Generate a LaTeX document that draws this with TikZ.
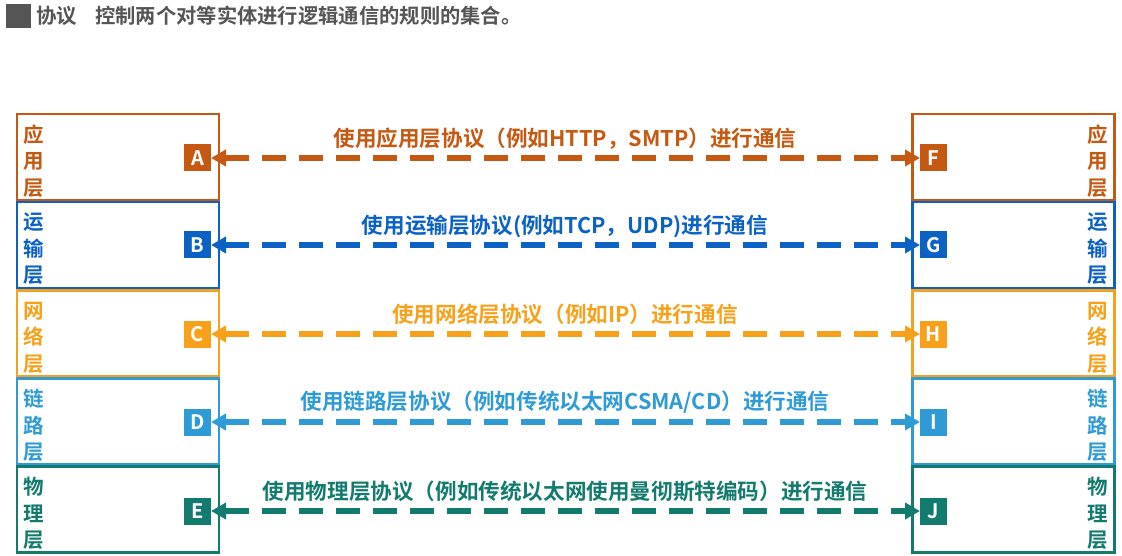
\documentclass[tikz,border=0pt]{standalone}
\usepackage{fontspec}
\setmainfont{Noto Sans CJK SC}[BoldFont={Noto Sans CJK SC Bold}]
\usetikzlibrary{arrows.meta}
\definecolor{capp}{HTML}{C65911}
\definecolor{ctra}{HTML}{0B62C4}
\definecolor{cnet}{HTML}{F7A11A}
\definecolor{clnk}{HTML}{2F9BD6}
\definecolor{cphy}{HTML}{127B6D}
\definecolor{ctitle}{HTML}{555555}
\tikzset{
  layerbox/.style={draw=#1, line width=2.5pt, fill=white, minimum width=202pt, minimum height=86pt, inner sep=0pt, outer sep=0pt, rectangle},
  layertext/.style={text=#1, font=\bfseries\fontsize{20.5}{26.5}\selectfont, align=center, inner sep=0pt},
  letterbox/.style={fill=#1, text=white, font=\bfseries\fontsize{20}{20}\selectfont, minimum width=27pt, minimum height=27pt, inner sep=0pt, outer sep=0pt},
  proto/.style={draw=#1, line width=6.5pt, dash pattern=on 24pt off 13pt, {Triangle[length=15pt,width=16pt]}-{Triangle[length=15pt,width=16pt]}},
  protolabel/.style={text=#1, font=\bfseries\fontsize{21.6}{25}\selectfont, inner sep=0pt},
}
\begin{document}
\begin{tikzpicture}[x=1pt,y=-1pt]
\useasboundingbox (0,0) rectangle (1122,556);
% title
\node[fill=ctitle, minimum width=25pt, minimum height=24pt, inner sep=0pt] (tsq) at (18.5,16) {};
\node[anchor=west, text=ctitle, font=\bfseries\fontsize{20.5}{24}\selectfont, inner sep=0pt] (tproto) at (36,16) {协议};
\node[anchor=west, text=ctitle, font=\bfseries\fontsize{20.3}{24}\selectfont, inner sep=0pt] (tdef) at (95,16) {控制两个对等实体进行逻辑通信的规则的集合。};
% left boxes
\node[layerbox=capp] (L1) at (118,157) {};
\node[layerbox=ctra] (L2) at (118,245) {};
\node[layerbox=cnet] (L3) at (118,333.5) {};
\node[layerbox=clnk] (L4) at (118,421.5) {};
\node[layerbox=cphy] (L5) at (118,509.5) {};
% right boxes
\node[layerbox=capp] (R1) at (1013.5,157) {};
\node[layerbox=ctra] (R2) at (1013.5,245) {};
\node[layerbox=cnet] (R3) at (1013.5,333.5) {};
\node[layerbox=clnk] (R4) at (1013.5,421.5) {};
\node[layerbox=cphy] (R5) at (1013.5,509.5) {};
% layer names
\node[layertext=capp] (L1t) at (33.5,161) {应\\用\\层};
\node[layertext=ctra] (L2t) at (33.5,249) {运\\输\\层};
\node[layertext=cnet] (L3t) at (33.5,337.5) {网\\络\\层};
\node[layertext=clnk] (L4t) at (33.5,425.5) {链\\路\\层};
\node[layertext=cphy] (L5t) at (33.5,513.5) {物\\理\\层};
\node[layertext=capp] (R1t) at (1098,161) {应\\用\\层};
\node[layertext=ctra] (R2t) at (1098,249) {运\\输\\层};
\node[layertext=cnet] (R3t) at (1098,337.5) {网\\络\\层};
\node[layertext=clnk] (R4t) at (1098,425.5) {链\\路\\层};
\node[layertext=cphy] (R5t) at (1098,513.5) {物\\理\\层};
% letter squares
\node[letterbox=capp] (A) at (197.5,158) {A};
\node[letterbox=ctra] (B) at (197.5,245) {B};
\node[letterbox=cnet] (C) at (197.5,334) {C};
\node[letterbox=clnk] (D) at (197.5,422) {D};
\node[letterbox=cphy] (E) at (197.5,511) {E};
\node[letterbox=capp] (F) at (933.5,158) {F};
\node[letterbox=ctra] (G) at (933.5,245) {G};
\node[letterbox=cnet] (H) at (933.5,334) {H};
\node[letterbox=clnk] (I) at (933.5,422) {I};
\node[letterbox=cphy] (J) at (933.5,511) {J};
% connectors
\draw[proto=capp] (A) -- (F);
\draw[proto=ctra] (B) -- (G);
\draw[proto=cnet] (C) -- (H);
\draw[proto=clnk] (D) -- (I);
\draw[proto=cphy] (E) -- (J);
% labels
\node[protolabel=capp] (labA) at (565,139) {使用应用层协议（例如HTTP，SMTP）进行通信};
\node[protolabel=ctra] (labB) at (565,226) {使用运输层协议(例如TCP，UDP)进行通信};
\node[protolabel=cnet] (labC) at (565,314) {使用网络层协议（例如IP）进行通信};
\node[protolabel=clnk] (labD) at (565,402) {使用链路层协议（例如传统以太网CSMA/CD）进行通信};
\node[protolabel=cphy] (labE) at (565,491) {使用物理层协议（例如传统以太网使用曼彻斯特编码）进行通信};
\end{tikzpicture}
\end{document}
